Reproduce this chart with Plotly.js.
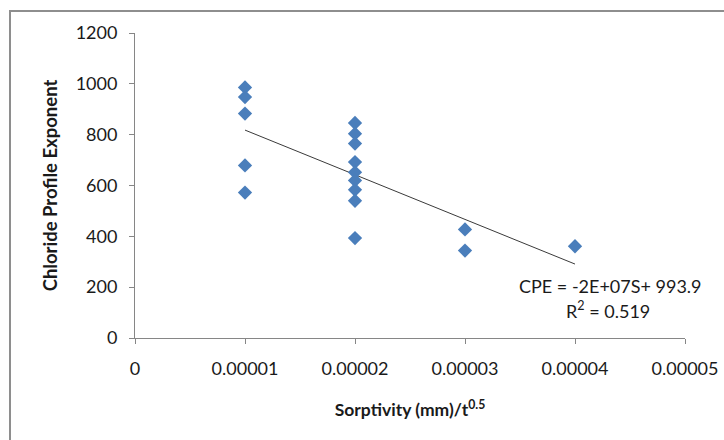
<!DOCTYPE html>
<html>
<head>
<meta charset="utf-8">
<script src="https://cdn.plot.ly/plotly-3.0.1.min.js"></script>
<style>
  html, body { margin: 0; padding: 0; background: #fff; }
  #wrap { position: relative; width: 724px; height: 440px; overflow: hidden; }
  #chart { position: absolute; left: 0; top: 0; width: 724px; height: 440px; }
  #frame { position: absolute; left: 9px; top: 10px; width: 800px; height: 500px;
           border-left: 2px solid #8e8e8e; border-top: 2px solid #8e8e8e; pointer-events: none; }
</style>
</head>
<body>
<div id="wrap">
  <div id="chart"></div>
  <div id="frame"></div>
</div>
<script>
// Sorptivity (mm)/t^0.5
const sorptivity = [0.00001, 0.00001, 0.00001, 0.00001, 0.00001,
                    0.00002, 0.00002, 0.00002, 0.00002, 0.00002, 0.00002, 0.00002, 0.00002, 0.00002,
                    0.00003, 0.00003,
                    0.00004];
// Chloride Profile Exponent
const cpe = [986, 948, 883, 679, 572,
             846, 804, 765, 692, 652, 620, 583, 540, 393,
             427, 344,
             361];
const equationLabel = "CPE = -2E+07S+ 993.9";
const r2Label = "R<sup>2</sup> = 0.519";
const xTitle = "Sorptivity (mm)/t<sup>0.5</sup>";
const yTitle = "Chloride Profile Exponent";

// Least-squares trendline from the data
const n = sorptivity.length;
const mx = sorptivity.reduce((a, b) => a + b, 0) / n;
const my = cpe.reduce((a, b) => a + b, 0) / n;
let sxy = 0, sxx = 0;
for (let i = 0; i < n; i++) { sxy += (sorptivity[i] - mx) * (cpe[i] - my); sxx += (sorptivity[i] - mx) ** 2; }
const slope = sxy / sxx;
const intercept = my - slope * mx;
const xmin = Math.min(...sorptivity), xmax = Math.max(...sorptivity);
const trendX = [xmin, xmax];
const trendY = trendX.map(x => intercept + slope * x);

const font = "Lato, 'Open Sans', sans-serif";
const txt = '#1a1a1a';

const data = [
  { x: trendX, y: trendY, type: 'scatter', mode: 'lines',
    line: { color: '#3a3a3a', width: 1 }, hoverinfo: 'skip', showlegend: false },
  { x: sorptivity, y: cpe, type: 'scatter', mode: 'markers',
    marker: { symbol: 'diamond', size: 11, color: '#4A7EBB' }, showlegend: false }
];

const layout = {
  width: 724, height: 440,
  margin: { l: 135, r: 39, t: 33, b: 102 },
  paper_bgcolor: '#fff', plot_bgcolor: '#fff',
  font: { family: font, size: 18, color: txt },
  showlegend: false,
  xaxis: {
    range: [0, 0.00005], dtick: 0.00001, tick0: 0, tickformat: '.5~f',
    showgrid: false, zeroline: false,
    showline: true, linecolor: '#868686', linewidth: 1,
    ticks: 'outside', ticklen: 5, tickcolor: '#868686',
    ticklabelstandoff: 9,
    tickfont: { family: font, size: 18, color: txt },
    title: { text: xTitle, standoff: 26, font: { family: font, size: 17.5, color: txt, weight: 'bold' } }
  },
  yaxis: {
    range: [0, 1200], dtick: 200, tick0: 0,
    showgrid: false, zeroline: false,
    showline: true, linecolor: '#868686', linewidth: 1,
    ticks: 'outside', ticklen: 5, tickcolor: '#868686',
    ticklabelstandoff: 8,
    tickfont: { family: font, size: 18, color: txt },
    title: { text: yTitle, standoff: 13, font: { family: font, size: 18.5, color: txt, weight: 'bold' } }
  },
  annotations: [
    { x: 0.00003475, y: 203, xref: 'x', yref: 'y', text: equationLabel, showarrow: false,
      font: { family: font, size: 18, color: txt }, xanchor: 'left', yanchor: 'middle' },
    { x: 0.0000390, y: 112, xref: 'x', yref: 'y', text: r2Label, showarrow: false,
      font: { family: font, size: 18, color: txt }, xanchor: 'left', yanchor: 'middle' }
  ]
};

Plotly.newPlot('chart', data, layout, { displayModeBar: false, staticPlot: true });
</script>
</body>
</html>
